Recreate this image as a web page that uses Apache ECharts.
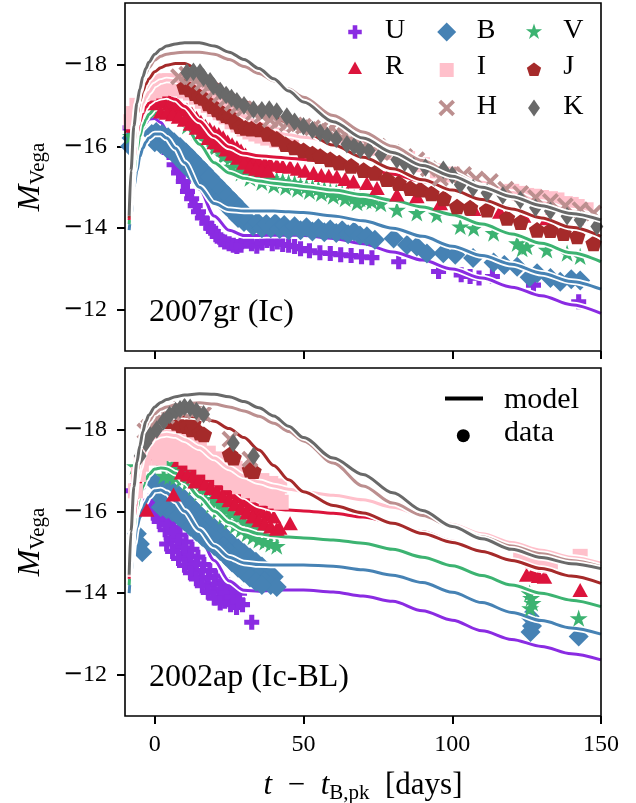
<!DOCTYPE html>
<html>
<head>
<meta charset="utf-8">
<title>SN Ic light curves: model vs data</title>
<script src="https://cdn.jsdelivr.net/npm/echarts@6.0.0/dist/echarts.min.js"></script>
<style>
html,body{margin:0;padding:0;background:#fff;}
#chart{width:636px;height:803px;}
</style>
</head>
<body>
<div id="chart"></div>
<script>
// ---------- bands ----------
const bands = ['U', 'B', 'V', 'R', 'I', 'J', 'H', 'K'];
const bandColors = ['#8a2be2', '#4682b4', '#3cb371', '#dc143c', '#ffc0cb', '#a52a2a', '#bc8f8f', '#696969'];
const panelLabels = ['2007gr (Ic)', '2002ap (Ic-BL)'];
const xTicks = [0, 50, 100, 150];
const yTicks = [-18, -16, -14, -12];

// ---------- model light curves (epochs in days after B-band peak) ----------
const modelDays = [-8.6, -8, -7, -6, -5, -4, -3, -2, 0, 2, 4, 7, 10, 15, 20, 25, 30, 35, 40, 45, 50, 60, 70, 80, 90, 100, 110, 120, 130, 140, 150];

// SN 2007gr
const gr07ModelU = [-14.0, -14.6, -15.4, -15.9, -16.2, -16.42, -16.56, -16.66, -16.68, -16.58, -16.4, -16.1, -15.7, -14.95, -14.3, -13.95, -13.82, -13.82, -13.83, -13.83, -13.82, -13.75, -13.62, -13.42, -13.22, -13.0, -12.78, -12.56, -12.35, -12.13, -11.92];
const gr07ModelB = [-13.95, -14.3, -15.0, -15.4, -15.75, -15.95, -16.1, -16.2, -16.3, -16.3, -16.2, -15.95, -15.6, -15.0, -14.6, -14.45, -14.42, -14.42, -14.42, -14.4, -14.38, -14.3, -14.18, -14.0, -13.8, -13.56, -13.33, -13.12, -12.9, -12.7, -12.51];
const gr07ModelV = [-14.1, -14.6, -15.4, -15.9, -16.25, -16.5, -16.65, -16.78, -16.92, -16.97, -16.95, -16.8, -16.55, -16.05, -15.6, -15.35, -15.22, -15.15, -15.1, -15.06, -15.02, -14.93, -14.82, -14.68, -14.52, -14.33, -14.1, -13.86, -13.63, -13.4, -13.18];
const gr07ModelR = [-14.2, -14.8, -15.7, -16.3, -16.6, -16.8, -16.95, -17.05, -17.15, -17.2, -17.22, -17.15, -16.98, -16.62, -16.25, -15.98, -15.83, -15.77, -15.74, -15.71, -15.68, -15.6, -15.48, -15.32, -15.14, -14.94, -14.72, -14.5, -14.27, -14.05, -13.84];
const gr07ModelI = [-14.3, -15.0, -16.0, -16.55, -16.85, -17.05, -17.2, -17.32, -17.5, -17.58, -17.62, -17.6, -17.5, -17.28, -17.02, -16.8, -16.6, -16.45, -16.35, -16.28, -16.22, -16.12, -16.0, -15.82, -15.6, -15.37, -15.12, -14.87, -14.63, -14.42, -14.24];
const gr07ModelJ = [-14.25, -15.1, -16.1, -16.75, -17.1, -17.35, -17.52, -17.65, -17.82, -17.92, -17.98, -18.02, -18.02, -17.85, -17.55, -17.3, -17.1, -16.92, -16.75, -16.55, -16.38, -16.03, -15.73, -15.45, -15.18, -14.93, -14.7, -14.47, -14.25, -14.02, -13.8];
const gr07ModelH = [-14.3, -15.3, -16.4, -17.0, -17.35, -17.6, -17.78, -17.92, -18.1, -18.2, -18.25, -18.28, -18.3, -18.3, -18.25, -18.12, -17.95, -17.78, -17.6, -17.4, -17.2, -16.75, -16.35, -16.0, -15.65, -15.33, -15.03, -14.76, -14.53, -14.36, -14.22];
const gr07ModelK = [-14.3, -15.4, -16.5, -17.05, -17.4, -17.7, -17.9, -18.05, -18.25, -18.37, -18.45, -18.5, -18.53, -18.53, -18.45, -18.3, -18.12, -17.9, -17.65, -17.35, -17.08, -16.6, -16.2, -15.85, -15.53, -15.27, -15.0, -14.77, -14.55, -14.36, -14.2];

// SN 2002ap
const ap02ModelU = [-14.1, -14.7, -15.5, -16.0, -16.3, -16.52, -16.66, -16.75, -16.78, -16.7, -16.6, -16.35, -16.0, -15.4, -14.8, -14.3, -14.07, -14.05, -14.07, -14.08, -14.08, -14.03, -13.93, -13.8, -13.57, -13.34, -13.08, -12.87, -12.7, -12.52, -12.37];
const ap02ModelB = [-14.0, -14.5, -15.2, -15.6, -15.85, -16.05, -16.22, -16.35, -16.5, -16.52, -16.45, -16.25, -16.0, -15.55, -15.15, -14.88, -14.74, -14.7, -14.69, -14.69, -14.69, -14.66, -14.57, -14.44, -14.26, -14.02, -13.77, -13.53, -13.33, -13.15, -13.0];
const ap02ModelV = [-14.2, -14.8, -15.6, -16.05, -16.35, -16.6, -16.78, -16.9, -17.03, -17.06, -17.04, -16.93, -16.72, -16.35, -16.0, -15.72, -15.55, -15.45, -15.4, -15.37, -15.35, -15.3, -15.22, -15.07, -14.88, -14.67, -14.43, -14.2, -14.0, -13.83, -13.67];
const ap02ModelR = [-14.35, -15.0, -15.85, -16.3, -16.65, -16.92, -17.1, -17.23, -17.4, -17.46, -17.47, -17.42, -17.32, -17.13, -16.9, -16.63, -16.36, -16.15, -16.06, -16.03, -16.01, -15.95, -15.86, -15.72, -15.5, -15.27, -15.02, -14.78, -14.57, -14.4, -14.24];
const ap02ModelI = [-14.4, -15.2, -16.2, -16.75, -17.05, -17.32, -17.5, -17.63, -17.8, -17.86, -17.88, -17.85, -17.75, -17.55, -17.3, -17.06, -16.86, -16.72, -16.62, -16.54, -16.48, -16.39, -16.28, -16.1, -15.9, -15.68, -15.45, -15.24, -15.05, -14.88, -14.73];
const ap02ModelJ = [-14.45, -15.3, -16.35, -16.95, -17.3, -17.6, -17.8, -17.95, -18.14, -18.23, -18.28, -18.32, -18.33, -18.3, -18.2, -18.02, -17.8, -17.5, -17.12, -16.77, -16.48, -16.14, -15.96, -15.71, -15.46, -15.24, -15.02, -14.8, -14.6, -14.42, -14.24];
const ap02ModelH = [-14.45, -15.45, -16.6, -17.2, -17.55, -17.85, -18.05, -18.2, -18.38, -18.49, -18.55, -18.6, -18.63, -18.65, -18.62, -18.55, -18.45, -18.32, -18.15, -17.95, -17.72, -17.18, -16.62, -16.2, -15.9, -15.62, -15.38, -15.15, -14.96, -14.8, -14.65];
const ap02ModelK = [-14.45, -15.5, -16.6, -17.2, -17.6, -17.95, -18.2, -18.35, -18.55, -18.66, -18.73, -18.8, -18.84, -18.87, -18.86, -18.8, -18.68, -18.53, -18.33, -18.08, -17.8, -17.3, -16.9, -16.45, -16.02, -15.63, -15.33, -15.07, -14.87, -14.72, -14.6];

// ---------- photometry [day, absolute Vega mag] ----------
// SN 2007gr
const gr07U = [[-8.3,-16.45],[4.8,-15.85],[6.5,-15.55],[8,-15.35],[9.6,-15.14],[11,-14.9],[12.4,-14.72],[13.6,-14.55],[14.7,-14.4],[16,-14.25],[17.5,-14.12],[18.8,-14.0],[19.7,-13.92],[21,-13.8],[22.2,-13.72],[23.5,-13.66],[25,-13.62],[26.4,-13.58],[27.6,-13.55],[29,-13.58],[30.9,-13.68],[32.5,-13.62],[34.3,-13.56],[36,-13.64],[37.7,-13.7],[39.5,-13.62],[41.2,-13.66],[43,-13.6],[45,-13.58],[47,-13.55],[49,-13.5],[52,-13.45],[55.5,-13.4],[59,-13.38],[62.5,-13.35],[66,-13.33],[69.5,-13.3],[73,-13.28],[82,-13.18],[95.4,-12.94],[103,-12.86],[106,-12.82],[109,-12.78],[113.5,-12.82],[127.3,-12.61],[142.5,-12.2]];
const gr07B = [[-8.3,-16.0],[-7.8,-16.2],[-1,-16.3],[0,-16.1],[1,-16.3],[2,-16.05],[3,-16.25],[4,-15.95],[5,-16.15],[6,-15.85],[7,-16.0],[8,-15.7],[9,-15.85],[10,-15.55],[11,-15.7],[12,-15.4],[13,-15.55],[14,-15.25],[15,-15.4],[16,-15.1],[17,-15.25],[18,-14.95],[19,-15.1],[20,-14.85],[21,-14.95],[22,-14.7],[23,-14.8],[24,-14.55],[25,-14.65],[26,-14.4],[27,-14.5],[28,-14.25],[29,-14.35],[30,-14.15],[0.5,-16.35],[2.5,-16.3],[4.5,-16.22],[6.5,-16.1],[8.5,-15.98],[10.5,-15.85],[12.5,-15.7],[14.5,-15.55],[16.5,-15.4],[18.5,-15.25],[20.5,-15.1],[22.5,-14.95],[24.5,-14.8],[26.5,-14.65],[28.5,-14.5],[31.5,-14.2],[33,-14.05],[34.5,-14.15],[36,-14.0],[37.5,-14.1],[39,-14.0],[40.5,-14.12],[42,-13.98],[43.5,-14.08],[45,-13.95],[47,-14.05],[49,-13.95],[51,-14.02],[53,-13.92],[55,-14.0],[57,-13.9],[59,-13.97],[61,-13.88],[63,-13.95],[65,-13.85],[67,-13.92],[69,-13.82],[71.3,-13.8],[74,-13.72],[80.3,-13.75],[84.8,-13.59],[88.1,-13.55],[91.5,-13.38],[97,-13.39],[101,-13.35],[107,-13.27],[113.9,-13.16],[117.5,-13.1],[121.8,-13.06],[126,-12.8],[128.5,-12.9],[133,-12.78],[136.3,-12.69],[140,-12.75],[143,-12.72]];
const gr07V = [[-8,-16.25],[-7.2,-16.5],[0,-16.85],[1.5,-16.95],[3,-17.0],[4.5,-16.95],[6,-16.95],[7.5,-16.85],[9,-16.85],[10.5,-16.75],[12,-16.7],[13.5,-16.6],[15,-16.5],[16.5,-16.4],[18,-16.3],[19.5,-16.2],[21,-16.08],[22.5,-15.95],[24,-15.85],[25.5,-15.72],[27,-15.62],[28.5,-15.52],[30,-15.45],[31.5,-15.4],[33,-15.35],[35,-15.3],[37,-15.25],[39,-15.22],[41,-15.18],[43,-15.15],[45,-15.12],[47,-15.1],[49,-15.05],[51,-15.02],[53,-15.0],[55,-14.97],[57,-14.95],[59,-14.9],[61,-14.88],[63,-14.85],[65,-14.8],[67,-14.75],[69,-14.72],[71,-14.68],[73,-14.65],[76,-14.6],[11,-16.5],[14,-16.35],[17,-16.15],[20,-15.95],[23,-15.75],[26,-15.5],[29,-15.35],[32,-15.22],[36,-15.12],[40,-15.05],[44,-15.0],[48,-14.95],[52,-14.9],[56,-14.85],[60,-14.78],[64,-14.72],[68,-14.62],[81.4,-14.45],[88.1,-14.37],[94.8,-14.33],[102.7,-14.04],[107.2,-14.0],[113.9,-13.88],[121.8,-13.63],[123.5,-13.5],[125.1,-13.55],[131.8,-13.47],[138.6,-13.39],[143,-13.31]];
const gr07R = [[-7.5,-16.5],[-1,-17.05],[1,-17.1],[3,-17.1],[5,-17.05],[7,-17.0],[9,-16.95],[10.8,-16.9],[12.5,-16.8],[14,-16.7],[15.5,-16.6],[17,-16.5],[18.5,-16.42],[20,-16.35],[21.5,-16.3],[23,-16.22],[24.5,-16.12],[26,-16.05],[27.6,-15.98],[29,-15.9],[30.5,-15.8],[32,-15.7],[33.5,-15.65],[35,-15.62],[37,-15.6],[38.8,-15.58],[41,-15.55],[43,-15.52],[45.5,-15.5],[48,-15.45],[50.5,-15.4],[53.4,-15.35],[56,-15.3],[58.5,-15.28],[61.2,-15.26],[64,-15.2],[66.8,-15.14],[71.3,-15.1],[74.7,-14.98],[81.4,-14.82],[88.1,-14.78],[96,-14.61],[107.2,-14.47],[116,-14.4],[124,-14.3],[131.8,-14.24],[143,-14.06],[2,-16.85],[4,-16.82],[6,-16.78],[8,-16.72],[10,-16.65],[12,-16.55],[14,-16.45],[16,-16.35],[18,-16.2],[20,-16.1],[22,-16.02],[24,-15.92],[26,-15.82],[28,-15.72],[30,-15.6],[32,-15.5],[34,-15.45],[36,-15.42],[38,-15.4]];
const gr07I = [[-8,-16.6],[-7.2,-16.8],[-6,-17.0],[-2,-17.3],[-1,-17.5],[0,-17.35],[1,-17.55],[2,-17.4],[3,-17.6],[4,-17.45],[5,-17.6],[6,-17.42],[7,-17.58],[8,-17.4],[9,-17.55],[10,-17.35],[11,-17.5],[12,-17.3],[13,-17.42],[14,-17.2],[15,-17.32],[16,-17.1],[17,-17.22],[18,-17.0],[19,-17.12],[20,-16.9],[21,-17.02],[22,-16.82],[23,-16.92],[24,-16.72],[25,-16.82],[26,-16.6],[27,-16.72],[28,-16.52],[29,-16.6],[30,-16.42],[31,-16.5],[32,-16.35],[33,-16.45],[34,-16.3],[35,-16.4],[36,-16.25],[37,-16.35],[38,-16.2],[39.5,-16.28],[41,-16.15],[42.5,-16.22],[44,-16.1],[46,-16.15],[72,-15.95],[78,-15.85],[85,-15.7],[90,-15.55],[95,-15.4],[97.5,-15.3],[100,-15.32],[120,-14.9],[122.5,-14.85],[125,-14.8],[127.4,-14.78],[130,-14.75],[133,-14.72],[135.2,-14.69],[138,-14.6],[140,-14.58],[142,-14.53],[145,-14.45]];
const gr07J = [[10,-17.45],[11.9,-17.39],[13.5,-17.3],[15,-17.22],[16.4,-17.18],[18,-17.05],[19.5,-16.98],[21,-16.9],[22.5,-16.82],[24,-16.76],[25.3,-16.73],[27,-16.6],[28.7,-16.49],[30.5,-16.45],[32.5,-16.43],[35.4,-16.41],[38,-16.3],[41,-16.18],[44,-16.05],[47,-15.97],[50,-15.9],[53,-15.82],[55.6,-15.76],[59,-15.68],[62,-15.6],[66,-15.52],[70.2,-15.42],[74,-15.35],[78,-15.2],[82,-15.1],[85.9,-14.98],[89.2,-14.94],[93,-14.85],[97.1,-14.73],[101.6,-14.53],[106,-14.5],[111.7,-14.45],[118.4,-14.25],[123,-14.15],[128.5,-13.96],[133,-13.95],[137.4,-13.88],[142,-13.8],[147.5,-13.63]];
const gr07H = [[8,-17.7],[10.8,-17.76],[12.5,-17.7],[14.2,-17.63],[16,-17.55],[18,-17.45],[20,-17.35],[22,-17.25],[24,-17.15],[26,-17.05],[28,-16.98],[30,-16.92],[33.2,-16.82],[36,-16.75],[38.8,-16.65],[41.5,-16.6],[44.5,-16.55],[47,-16.52],[50,-16.49],[53,-16.45],[55.6,-16.41],[58.5,-16.37],[61.2,-16.33],[64,-16.28],[66.8,-16.24],[71.3,-16.08],[75,-16.0],[80,-15.85],[84,-15.75],[88.1,-15.67],[92,-15.45],[96,-15.22],[99,-15.3],[103.8,-15.31],[108,-15.2],[112.8,-15.14],[118,-14.95],[123,-14.85],[128,-14.75],[133,-14.65],[138,-14.55],[143,-14.45],[147.5,-14.37]];
const gr07K = [[10.8,-17.8],[13,-17.82],[15.2,-17.8],[16.4,-17.68],[18.6,-17.59],[19.7,-17.47],[22,-17.35],[24,-17.25],[25.8,-17.18],[27.6,-17.1],[30,-17.0],[33.2,-16.9],[36,-16.88],[38.5,-16.9],[41,-16.85],[44.4,-16.73],[47,-16.6],[50,-16.49],[53,-16.4],[55.6,-16.33],[58,-16.25],[61,-16.18],[64.6,-16.05],[67,-16.0],[69.1,-15.92],[72,-15.9],[76,-15.8],[81.4,-15.67],[84,-15.6],[87,-15.51],[91,-15.48],[97,-15.43],[100,-15.3],[102.7,-15.06],[107,-14.98],[111.7,-14.86],[117,-14.8],[122.9,-14.69],[128,-14.5],[133,-14.42],[138.6,-14.29],[143,-14.2],[148.6,-14.04]];

// SN 2002ap
const ap02U = [[-7.5,-16.5],[-1.5,-16.25],[0.5,-16.1],[2.5,-15.95],[4.5,-15.8],[6.5,-15.6],[8.5,-15.42],[10.5,-15.25],[12.5,-15.07],[14.5,-14.88],[16.5,-14.7],[18.5,-14.55],[20.5,-14.42],[22.5,-14.3],[24.5,-14.2],[26.5,-14.1],[28.5,-14.0],[-0.5,-15.95],[1.5,-15.75],[3.5,-15.55],[5.5,-15.35],[7.5,-15.15],[9.5,-14.95],[11.5,-14.75],[13.5,-14.55],[15.5,-14.38],[17.5,-14.2],[19.5,-14.05],[21.5,-13.9],[23.5,-13.8],[25.5,-13.72],[27.5,-13.65],[29.5,-13.72],[0,-16.05],[2,-15.85],[4,-15.68],[6,-15.48],[8,-15.28],[10,-15.1],[12,-14.9],[14,-14.72],[16,-14.55],[18,-14.38],[20,-14.22],[22,-14.1],[24,-14.0],[26,-13.9],[28,-13.82],[4,-15.2],[6,-15.02],[8,-14.85],[10,-14.68],[12,-14.5],[14,-14.35],[16,-14.18],[18,-14.02],[20,-13.88],[22,-13.76],[32.6,-13.29]];
const ap02B = [[-6,-15.45],[-5,-15.2],[-4.2,-15.0],[0,-16.7],[2,-16.67],[4,-16.6],[6,-16.5],[8,-16.4],[10,-16.3],[12,-16.15],[14,-16.0],[16,-15.85],[18,-15.7],[20,-15.6],[22,-15.5],[24,-15.35],[26,-15.2],[28,-15.1],[30,-14.98],[32,-14.87],[34,-14.77],[36,-14.65],[38,-14.53],[40,-14.4],[1,-16.4],[3,-16.35],[5,-16.28],[7,-16.18],[9,-16.08],[11,-15.95],[13,-15.8],[15,-15.65],[17,-15.5],[19,-15.38],[21,-15.28],[23,-15.15],[25,-15.0],[27,-14.87],[29,-14.76],[31,-14.65],[33,-14.55],[35,-14.42],[37,-14.3],[39,-14.2],[41,-14.15],[2,-16.1],[4,-16.05],[6,-15.98],[8,-15.88],[10,-15.75],[12,-15.62],[14,-15.5],[16,-15.38],[18,-15.25],[20,-15.15],[22,-15.03],[24,-14.9],[26,-14.75],[28,-14.62],[30,-14.5],[32,-14.38],[34,-14.28],[36,-14.2],[126,-13.43],[126.8,-13.2],[126.3,-13.05],[142.5,-12.94]];
const ap02V = [[-6.6,-17.1],[2,-17.15],[4,-17.15],[6,-17.13],[8,-17.1],[10,-17.03],[12,-16.93],[14,-16.8],[16,-16.65],[18,-16.5],[20,-16.3],[22,-16.17],[24,-16.05],[26,-15.95],[28,-15.85],[30,-15.75],[32,-15.67],[34,-15.6],[36,-15.55],[38,-15.5],[40,-15.45],[3,-16.87],[5,-16.85],[7,-16.83],[9,-16.78],[11,-16.7],[13,-16.58],[15,-16.45],[17,-16.3],[19,-16.15],[21,-16.0],[23,-15.88],[25,-15.75],[27,-15.65],[29,-15.55],[31,-15.45],[33,-15.38],[35,-15.3],[37,-15.25],[39,-15.2],[41,-15.15],[126,-14.0],[126.5,-13.88],[127,-13.76],[126.2,-13.63],[142.5,-13.39]];
const ap02R = [[-2.7,-16.04],[6.3,-16.41],[13.6,-16.73],[8,-17.25],[10,-17.2],[12,-17.15],[14,-17.07],[16,-16.97],[18,-16.87],[20,-16.77],[22,-16.67],[24,-16.57],[26,-16.47],[28,-16.37],[30,-16.27],[32,-16.17],[34,-16.08],[36,-16.0],[38,-15.93],[40,-15.87],[9,-16.95],[11,-16.9],[13,-16.85],[15,-16.77],[17,-16.67],[19,-16.57],[21,-16.47],[23,-16.37],[25,-16.27],[27,-16.17],[29,-16.07],[31,-15.97],[33,-15.87],[35,-15.78],[37,-15.7],[39,-15.63],[41,-15.57],[42,-15.6],[45.5,-15.71],[125,-14.45],[127,-14.5],[129,-14.42],[131,-14.4],[143,-14.08]];
const ap02I = [[-6.5,-16.5],[-5.5,-16.9],[-4.5,-17.15],[-3.5,-17.3],[-2.5,-17.45],[-1.5,-17.55],[0,-17.65],[3,-17.8],[6,-17.82],[9,-17.75],[12,-17.65],[15,-17.55],[18,-17.42],[21,-17.28],[24,-17.15],[27,-17.05],[30,-16.95],[33,-16.85],[36,-16.75],[39,-16.68],[42,-16.62],[1.5,-17.3],[4.5,-17.41],[7.5,-17.39],[10.5,-17.3],[13.5,-17.2],[16.5,-17.08],[19.5,-16.95],[22.5,-16.82],[25.5,-16.7],[28.5,-16.6],[31.5,-16.5],[34.5,-16.4],[37.5,-16.32],[40.5,-16.25],[42.5,-16.22],[0.8,-17.48],[2.2,-17.6],[3.8,-17.62],[5.2,-17.65],[6.8,-17.62],[8.2,-17.58],[9.8,-17.52],[11.2,-17.48],[12.8,-17.42],[14.2,-17.38],[15.8,-17.3],[17.2,-17.25],[18.8,-17.18],[20.2,-17.12],[21.8,-17.05],[23.2,-16.98],[24.8,-16.92],[26.2,-16.88],[27.8,-16.82],[29.2,-16.78],[30.8,-16.72],[32.2,-16.68],[33.8,-16.62],[35.2,-16.58],[36.8,-16.52],[38.2,-16.5],[39.8,-16.46],[41.2,-16.42],[123,-15.0],[125,-14.9],[127,-14.78],[129,-14.85],[131,-14.72],[133,-14.68],[143,-14.9]];
const ap02J = [[5,-18.2],[7.4,-18.16],[9,-18.1],[10.8,-18.08],[12.5,-18.0],[13,-18.15],[15.2,-17.92],[16.5,-17.88],[25.3,-17.39],[26.5,-17.31],[32,-17.02],[33.2,-16.98]];
const ap02H = [[-3.3,-17.96],[-2,-18.05],[-0.5,-18.16],[1.5,-18.25],[4,-18.33],[6,-18.4],[8.5,-18.49],[11,-18.5],[13.5,-18.45],[16.4,-18.37],[25.3,-17.76],[32,-17.27]];
const ap02K = [[-4.9,-17.35],[-3,-17.67],[-1.5,-17.85],[0.7,-18.0],[3,-18.2],[5,-18.35],[7,-18.45],[8.5,-18.49],[10,-18.55],[11.9,-18.53],[14,-18.45],[16.4,-18.37],[26.4,-17.67],[33.2,-17.35]];

// ---------- marker shapes (unit coordinates, y down) ----------
function regularPoints(n, r, offsetDeg) {
  const pts = [];
  for (let k = 0; k < n; k++) {
    const ang = (offsetDeg + k * 360 / n) * Math.PI / 180;
    pts.push([r * Math.cos(ang), r * Math.sin(ang)]);
  }
  return pts;
}
function starPoints() {
  const outer = regularPoints(5, 1, -90), inner = regularPoints(5, 0.382, -54), pts = [];
  for (let k = 0; k < 5; k++) { pts.push(outer[k]); pts.push(inner[k]); }
  return pts;
}
const a = 0.34, d = 0.32;
const markerShapes = [
  [[-a,-1],[a,-1],[a,-a],[1,-a],[1,a],[a,a],[a,1],[-a,1],[-a,a],[-1,a],[-1,-a],[-a,-a]],          // plus
  [[0,-1],[1,0],[0,1],[-1,0]],                                                                     // diamond
  starPoints(),                                                                                    // star
  [[0,-1],[1,0.8],[-1,0.8]],                                                                       // triangle
  [[-1,-1],[1,-1],[1,1],[-1,1]],                                                                   // square
  regularPoints(5, 1, -90),                                                                        // pentagon
  [[-1+d,-1],[0,-d],[1-d,-1],[1,-1+d],[d,0],[1,1-d],[1-d,1],[0,d],[-1+d,1],[-1,1-d],[-d,0],[-1,-1+d]], // x
  [[0,-1],[0.7,0],[0,1],[-0.7,0]]                                                                  // thin diamond
];
const legendMarkerSizes = [13.5, 19, 17, 14, 14, 15, 16.5, 17];
const dataMarkerSizes = [15, 20, 18, 15.5, 15, 16.5, 17, 18.5];

function toSymbolPath(pts) {
  return 'path://M' + pts.map(p => (p[0] * 10).toFixed(2) + ' ' + (p[1] * 10).toFixed(2)).join(' L') + ' Z';
}

// ---------- layout ----------
const FONT = '"Liberation Serif", "Times New Roman", serif';
const PLOT_LEFT = 125, PLOT_W = 476, PLOT_H = 348;
const PANEL_TOPS = [3, 368];

const models = [
  [gr07ModelU, gr07ModelB, gr07ModelV, gr07ModelR, gr07ModelI, gr07ModelJ, gr07ModelH, gr07ModelK],
  [ap02ModelU, ap02ModelB, ap02ModelV, ap02ModelR, ap02ModelI, ap02ModelJ, ap02ModelH, ap02ModelK]
];
const photometry = [
  [gr07U, gr07B, gr07V, gr07R, gr07I, gr07J, gr07H, gr07K],
  [ap02U, ap02B, ap02V, ap02R, ap02I, ap02J, ap02H, ap02K]
];

const grids = [], xAxes = [], yAxes = [], series = [];
let zOrder = 3;
for (let p = 0; p < 2; p++) {
  grids.push({ left: PLOT_LEFT, top: PANEL_TOPS[p], width: PLOT_W, height: PLOT_H, show: false });
  xAxes.push({
    type: 'value', gridIndex: p, min: -10, max: 150, position: 'bottom',
    axisLine: { show: false, onZero: false },
    axisTick: { show: true, customValues: xTicks, length: 8, lineStyle: { color: '#000', width: 2 } },
    axisLabel: { show: p === 1, customValues: xTicks, margin: 17, color: '#000', fontSize: 24, fontFamily: FONT },
    splitLine: { show: false }
  });
  yAxes.push({
    type: 'value', gridIndex: p, min: -19.5, max: -11, inverse: true, position: 'left',
    axisLine: { show: false, onZero: false },
    axisTick: { show: true, customValues: yTicks, length: 8, lineStyle: { color: '#000', width: 2 } },
    axisLabel: {
      customValues: yTicks, margin: 18, color: '#000', fontSize: 24, fontFamily: FONT,
      formatter: v => (v < 0 ? '{m|\u2212}' : '') + Math.abs(v),
      rich: { m: { fontFamily: '"DejaVu Sans", sans-serif', fontSize: 24, color: '#000' } }
    },
    splitLine: { show: false }
  });
  for (let b = 0; b < bands.length; b++) {
    series.push({
      type: 'scatter', name: bands[b], xAxisIndex: p, yAxisIndex: p,
      data: photometry[p][b],
      symbol: toSymbolPath(markerShapes[b]), symbolSize: dataMarkerSizes[b], symbolKeepAspect: true,
      itemStyle: { color: bandColors[b], opacity: 1 },
      silent: true, z: zOrder++
    });
    const curve = modelDays.map((t, i) => [t, models[p][b][i]]);
    series.push({
      type: 'line', name: bands[b] + ' model edge', xAxisIndex: p, yAxisIndex: p, data: curve,
      showSymbol: false, smooth: 0.3, smoothMonotone: 'x',
      lineStyle: { color: '#ffffff', width: 6.5 }, silent: true, z: zOrder++
    });
    series.push({
      type: 'line', name: bands[b] + ' model', xAxisIndex: p, yAxisIndex: p, data: curve,
      showSymbol: false, smooth: 0.3, smoothMonotone: 'x',
      lineStyle: { color: bandColors[b], width: 3 }, silent: true, z: zOrder++
    });
  }
}

// ---------- frames, labels, legends ----------
const graphics = [];
PANEL_TOPS.forEach((top, p) => {
  graphics.push({
    type: 'rect', z: 200, silent: true,
    shape: { x: PLOT_LEFT, y: top, width: PLOT_W, height: PLOT_H },
    style: { fill: 'none', stroke: '#000', lineWidth: 1.6 }
  });
  graphics.push({
    type: 'text', z: 200, x: 149, y: top + 309.5, silent: true,
    style: { text: panelLabels[p], fill: '#000', fontSize: 32, fontFamily: FONT, align: 'left', verticalAlign: 'middle' }
  });
  // y-axis title
  graphics.push({
    type: 'text', z: 200, x: 31, y: top + 174, rotation: Math.PI / 2, silent: true,
    style: {
      text: '{m|M}{s|Vega}', align: 'center', verticalAlign: 'middle',
      rich: {
        m: { fontSize: 32, fontStyle: 'italic', fontFamily: FONT, fill: '#000', lineHeight: 36 },
        s: { fontSize: 21, fontFamily: FONT, fill: '#000', lineHeight: 20, verticalAlign: 'bottom' }
      }
    }
  });
});

// x-axis title
graphics.push({
  type: 'text', z: 200, x: 363, y: 786, silent: true,
  style: {
    text: '{i|t}{n|  \u2212  }{i|t}{s|B,pk}{n|  [days]}', align: 'center', verticalAlign: 'middle',
    rich: {
      i: { fontSize: 31, fontStyle: 'italic', fontFamily: FONT, fill: '#000', lineHeight: 36 },
      n: { fontSize: 31, fontFamily: FONT, fill: '#000', lineHeight: 36 },
      s: { fontSize: 21, fontFamily: FONT, fill: '#000', lineHeight: 20, verticalAlign: 'bottom' }
    }
  }
});

// band legend (three columns)
const legendSlots = [
  [355, 32, 385, 31], [446.7, 32, 476.7, 31], [534, 32, 563.3, 31],
  [355, 68.5, 385, 67], [446.7, 70, 476.7, 67], [534, 70, 563.3, 67],
  [446.7, 108, 476.7, 107], [534, 108, 563.3, 107]
];
bands.forEach((name, b) => {
  const [cx, cy, tx, ty] = legendSlots[b];
  const half = legendMarkerSizes[b] / 2;
  graphics.push({
    type: 'polygon', z: 200, silent: true,
    shape: { points: markerShapes[b].map(q => [cx + q[0] * half, cy + q[1] * half]) },
    style: { fill: bandColors[b] }
  });
  graphics.push({
    type: 'text', z: 200, x: tx, y: ty, silent: true,
    style: { text: name, fill: '#000', fontSize: 28, fontFamily: FONT, align: 'left', verticalAlign: 'middle' }
  });
});

// model / data key
graphics.push({ type: 'line', z: 200, silent: true, shape: { x1: 445, y1: 398.5, x2: 483, y2: 398.5 }, style: { stroke: '#000', lineWidth: 4 } });
graphics.push({ type: 'circle', z: 200, silent: true, shape: { cx: 463.3, cy: 435.7, r: 6.5 }, style: { fill: '#000' } });
graphics.push({ type: 'text', z: 200, x: 504, y: 400, silent: true, style: { text: 'model', fill: '#000', fontSize: 30, fontFamily: FONT, align: 'left', verticalAlign: 'middle' } });
graphics.push({ type: 'text', z: 200, x: 504, y: 433, silent: true, style: { text: 'data', fill: '#000', fontSize: 30, fontFamily: FONT, align: 'left', verticalAlign: 'middle' } });

const chart = echarts.init(document.getElementById('chart'), null, { renderer: 'canvas' });
chart.setOption({
  animation: false,
  backgroundColor: '#ffffff',
  grid: grids,
  xAxis: xAxes,
  yAxis: yAxes,
  series: series,
  graphic: graphics
});
</script>
</body>
</html>
